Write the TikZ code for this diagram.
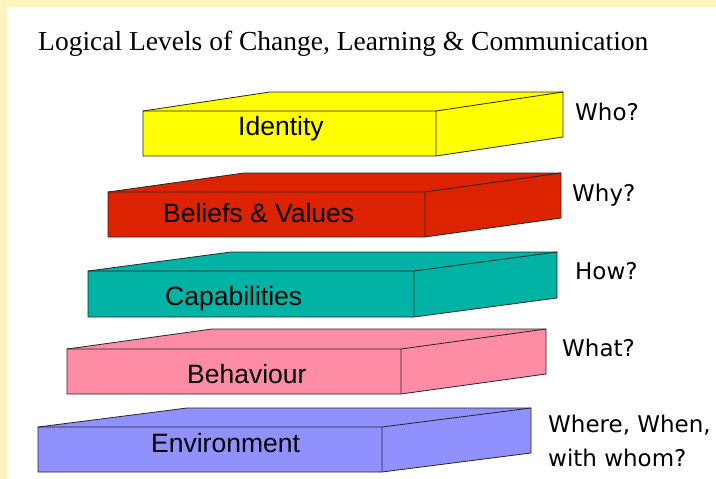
\documentclass[tikz,border=0pt]{standalone}
\usepackage{fontspec}
\setmainfont{Liberation Serif}
\newfontfamily\boxfont{Liberation Sans}
\newfontfamily\askfont{DejaVu Sans}
\usepackage{xcolor}
\usetikzlibrary{positioning}
\definecolor{paper}{HTML}{FFF4C0}
\definecolor{idyellow}{HTML}{FFFF00}
\definecolor{belred}{HTML}{DD2200}
\definecolor{capteal}{HTML}{00B3A5}
\definecolor{behpink}{HTML}{FF8CA5}
\definecolor{envblue}{HTML}{9090FF}
\tikzset{slab/.style={draw=black!85, line width=0.8pt},
  lvl/.style={font=\boxfont\fontsize{26.5}{30}\selectfont, anchor=base west, inner sep=0pt},
  ask/.style={font=\askfont\fontsize{23}{28}\selectfont, anchor=base west, inner sep=0pt}}

\begin{document}
\begin{tikzpicture}[x=1pt, y=-1pt]
    % frame
    \fill[paper] (0,0) rectangle (716,479);
    \fill[white] (7,7) rectangle (716,479);
    \useasboundingbox (0,0) rectangle (716,479);

    \node[anchor=base west, inner sep=0pt, font=\fontsize{27.5}{30}\selectfont] (title) at (38,50)
        {Logical Levels of Change, Learning \& Communication};

    % identity
    \filldraw[slab, fill=idyellow] (143,111) -- ++(127,-19) -- ++(293,0) -- ++(0,45)
        -- ++(-127,19) -- ++(-293,0) -- cycle;
    \draw[slab] (143,111) -- (436,111) -- ++(127,-19) (436,111) -- (436,156);
    \node[lvl] (identity) at (238,135) {Identity};
    \node[ask] (who) at (575,120) {Who?};

    % beliefs
    \filldraw[slab, fill=belred] (108,192) -- ++(136,-19) -- ++(317,0) -- ++(0,45)
        -- ++(-136,19) -- ++(-317,0) -- cycle;
    \draw[slab] (108,192) -- (425,192) -- ++(136,-19) (425,192) -- (425,237);
    \node[lvl] (beliefs) at (163,222) {Beliefs \& Values};
    \node[ask] (why) at (572,201) {Why?};

    % capabilities
    \filldraw[slab, fill=capteal] (88,271) -- ++(143,-19) -- ++(326,0) -- ++(0,46)
        -- ++(-143,19) -- ++(-326,0) -- cycle;
    \draw[slab] (88,271) -- (414,271) -- ++(143,-19) (414,271) -- (414,317);
    \node[lvl] (capab) at (165,305) {Capabilities};
    \node[ask] (how) at (575,279) {How?};

    % behaviour
    \filldraw[slab, fill=behpink] (67,349) -- ++(145,-20) -- ++(334,0) -- ++(0,45)
        -- ++(-145,20) -- ++(-334,0) -- cycle;
    \draw[slab] (67,349) -- (401,349) -- ++(145,-20) (401,349) -- (401,394);
    \node[lvl] (behav) at (187,383) {Behaviour};
    \node[ask] (what) at (562,356) {What?};

    % environment
    \filldraw[slab, fill=envblue] (38,427) -- ++(149,-19) -- ++(344,0) -- ++(0,45)
        -- ++(-149,19) -- ++(-344,0) -- cycle;
    \draw[slab] (38,427) -- (382,427) -- ++(149,-19) (382,427) -- (382,472);
    \node[lvl] (environ) at (151,452) {Environment};
    \node[ask] (where) at (548,432) {Where, When,};
    \node[ask] (whom) at (548,466) {with whom?};
\end{tikzpicture}
\end{document}
